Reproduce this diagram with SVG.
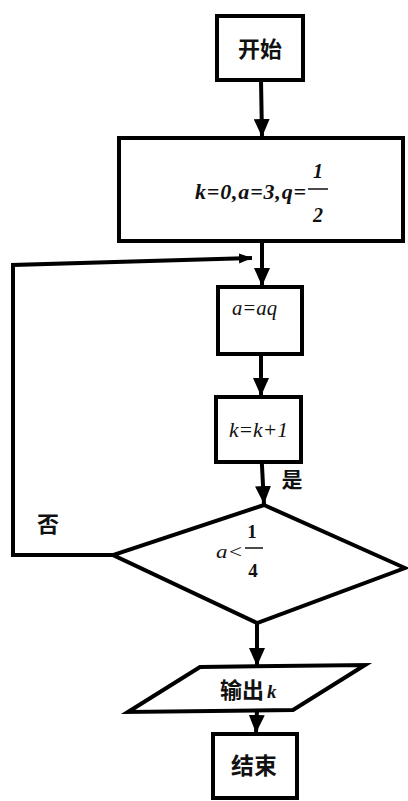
<svg xmlns="http://www.w3.org/2000/svg" width="408" height="801" viewBox="0 0 408 801">
<style>
.box{fill:#fff;stroke:#000;stroke-width:4;stroke-linejoin:miter}
.cn{font-family:"Noto Sans CJK SC","Noto Sans",sans-serif;font-weight:bold;fill:#111}
.m{font-family:"Liberation Serif",serif;font-style:italic;fill:#111}
.n{font-family:"Liberation Serif",serif;font-weight:bold;fill:#111}
.frac{stroke:#111;stroke-width:1.5}
.conn{fill:none;stroke:#000;stroke-width:4}
</style>
<defs>
<marker id="ah" markerUnits="userSpaceOnUse" markerWidth="20" markerHeight="16" viewBox="0 0 20 16" refX="18" refY="8" orient="auto">
<path d="M0,0 L18,8 L0,16 Z" fill="#000"/>
</marker>
<marker id="ahs" markerUnits="userSpaceOnUse" markerWidth="14" markerHeight="12" viewBox="0 0 14 12" refX="13" refY="6" orient="auto">
<path d="M0,1 L13,6 L0,11 Z" fill="#000"/>
</marker>
</defs>
<g id="connectors">
<line class="conn" x1="261" y1="80" x2="262" y2="137" marker-end="url(#ah)"/>
<line class="conn" x1="262" y1="241" x2="262" y2="286" marker-end="url(#ah)"/>
<polyline class="conn" points="113,555 13,555 13,265 252,258" marker-end="url(#ahs)"/>
<line class="conn" x1="261" y1="354" x2="261" y2="396" marker-end="url(#ah)"/>
<line class="conn" x1="261" y1="447" x2="264" y2="504" marker-end="url(#ah)"/>
<line class="conn" x1="257" y1="623" x2="257" y2="666" marker-end="url(#ah)"/>
<line class="conn" x1="257" y1="710" x2="256" y2="733" marker-end="url(#ah)"/>
</g>
<g id="start">
<rect class="box" x="217" y="16" width="86" height="64"/>
<text class="cn" x="260" y="57" font-size="22" text-anchor="middle">开始</text>
</g>
<g id="init">
<rect class="box" x="119" y="138" width="284" height="103"/>
<text class="m" x="195" y="199" font-size="22" font-weight="bold" textLength="111" lengthAdjust="spacing">k=0,a=3,q=</text>
<text class="m" x="318" y="178" font-size="20" font-weight="bold" text-anchor="middle">1</text>
<line class="frac" x1="308" y1="189" x2="328" y2="189"/>
<text class="m" x="318" y="222" font-size="20" font-weight="bold" text-anchor="middle">2</text>
</g>
<g id="update-a">
<rect class="box" x="218" y="287" width="84" height="67"/>
<text class="m" x="232" y="315" font-size="20" textLength="45" lengthAdjust="spacingAndGlyphs">a=aq</text>
</g>
<g id="update-k">
<rect class="box" x="216" y="397" width="85" height="65"/>
<text class="m" x="229" y="437" font-size="21" textLength="59" lengthAdjust="spacingAndGlyphs">k=k+1</text>
</g>
<g id="decision">
<polygon class="box" points="264,505 405,568 257,623 113,555"/>
<text class="n" x="252" y="538" font-size="19" text-anchor="middle">1</text>
<text class="m" x="216" y="558" font-size="19" textLength="27" lengthAdjust="spacingAndGlyphs">a&lt;</text>
<line class="frac" x1="245" y1="548" x2="263" y2="548"/>
<text class="n" x="253" y="577" font-size="19" text-anchor="middle">4</text>
<text class="cn" x="48" y="532" font-size="22" text-anchor="middle">否</text>
<text class="cn" x="292" y="487" font-size="21" text-anchor="middle">是</text>
</g>
<g id="output">
<polygon class="box" points="200,667 365,665 293,710 128,712"/>
<text class="cn" x="220" y="698" font-size="22">输出</text>
<text class="m" x="267" y="698" font-size="19" font-weight="bold">k</text>
</g>
<g id="end">
<rect class="box" x="213" y="734" width="84" height="64"/>
<text class="cn" x="254" y="774" font-size="23" text-anchor="middle">结束</text>
</g>
</svg>
